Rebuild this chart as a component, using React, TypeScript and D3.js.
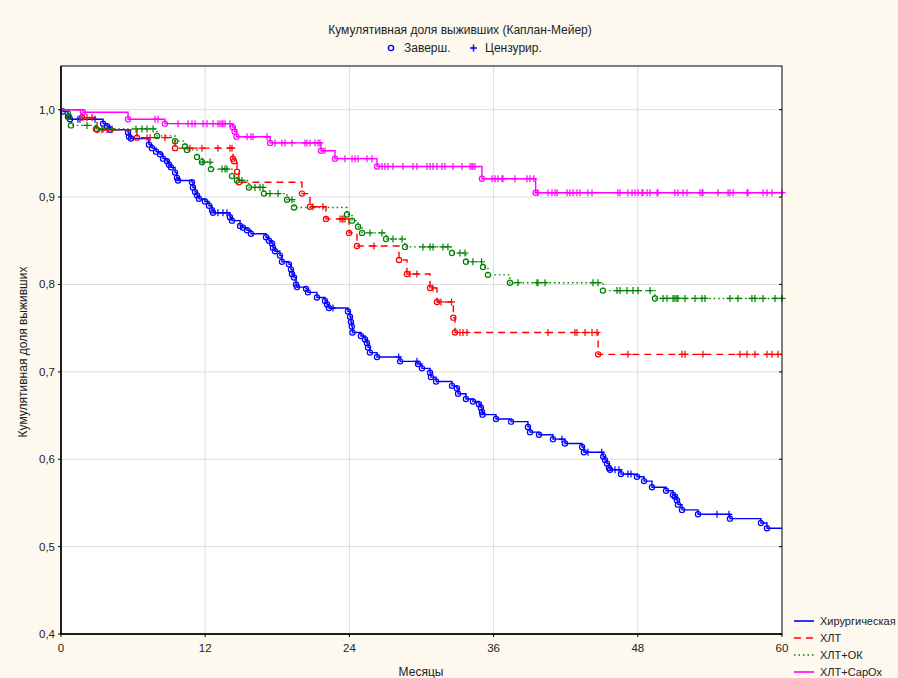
import React from 'react';
import * as d3 from 'd3';

// x axis (months) and y axis (cumulative survival)
const monthTicks = [0, 12, 24, 36, 48, 60];
const survivalTicks = [0.4, 0.5, 0.6, 0.7, 0.8, 0.9, 1.0];
const followUp = 60;

// [month, survival after event]  and censored months
const surgeryEvents: [number, number][] = [
  [0.17, 0.998], [0.58, 0.992], [0.75, 0.989], [3.5, 0.984], [3.83, 0.981], [4.08, 0.977],
  [5.58, 0.974], [5.66, 0.969], [5.83, 0.967], [7.32, 0.96], [7.57, 0.956], [7.91, 0.952],
  [8.24, 0.949], [8.49, 0.944], [8.82, 0.941], [8.99, 0.937], [9.15, 0.934], [9.49, 0.928],
  [9.65, 0.922], [9.74, 0.919], [10.9, 0.917], [10.98, 0.911], [11.15, 0.906], [11.32, 0.902],
  [11.48, 0.898], [11.98, 0.895], [12.32, 0.89], [12.57, 0.885], [12.65, 0.882], [14.06, 0.877],
  [14.23, 0.873], [14.9, 0.867], [15.15, 0.865], [15.48, 0.862], [15.81, 0.858], [17.06, 0.854],
  [17.31, 0.85], [17.56, 0.847], [17.64, 0.842], [17.81, 0.838], [18.22, 0.833], [18.39, 0.826],
  [18.97, 0.823], [19.14, 0.817], [19.22, 0.812], [19.39, 0.808], [19.56, 0.8], [19.64, 0.797],
  [20.39, 0.795], [20.55, 0.791], [21.3, 0.785], [21.97, 0.781], [22.14, 0.777], [22.3, 0.773],
  [23.88, 0.769], [24.05, 0.763], [24.13, 0.757], [24.2, 0.752], [24.25, 0.745], [24.96, 0.741],
  [25.3, 0.737], [25.46, 0.733], [25.55, 0.728], [25.71, 0.722], [26.3, 0.717], [28.22, 0.712],
  [29.71, 0.709], [30.04, 0.704], [30.71, 0.699], [30.79, 0.694], [31.21, 0.689], [32.54, 0.684],
  [32.95, 0.681], [33.04, 0.675], [33.7, 0.669], [34.28, 0.666], [34.78, 0.663], [34.95, 0.659],
  [35.03, 0.654], [35.08, 0.651], [36.2, 0.646], [37.45, 0.643], [38.86, 0.637], [39.03, 0.631],
  [39.78, 0.628], [40.94, 0.623], [41.94, 0.618], [43.36, 0.614], [43.52, 0.608], [45.12, 0.603],
  [45.27, 0.599], [45.44, 0.595], [45.6, 0.59], [45.69, 0.588], [46.6, 0.583], [47.93, 0.58],
  [48.52, 0.575], [49.18, 0.568], [50.35, 0.564], [50.93, 0.559], [51.09, 0.557], [51.26, 0.553],
  [51.34, 0.548], [51.68, 0.542], [53.01, 0.537], [55.67, 0.532], [58.25, 0.527], [58.75, 0.521],
];
const surgeryCensored = [
  1.41, 1.58, 2.83, 13.06, 13.48, 13.81, 22.63, 28.1, 29.62, 41.69, 43.85, 45.0, 46.1, 46.43,
  47.18, 47.43, 54.59, 55.59,
];

const chemoEvents: [number, number][] = [
  [1.75, 0.991], [3.0, 0.977], [6.32, 0.968], [9.49, 0.956], [14.31, 0.944], [14.4, 0.941],
  [14.65, 0.929], [14.81, 0.917], [20.05, 0.904], [20.72, 0.889], [22.05, 0.875], [23.97, 0.859],
  [24.63, 0.844], [28.13, 0.828], [28.79, 0.812], [30.71, 0.796], [31.29, 0.78], [32.65, 0.762],
  [32.79, 0.745], [44.7, 0.72],
];
const chemoCensored = [
  2.16, 2.58, 3.41, 3.83, 4.24, 7.16, 7.41, 8.65, 10.73, 11.73, 13.06, 14.06, 14.23, 20.97,
  21.8, 23.22, 23.38, 23.47, 23.63, 26.05, 29.04, 29.62, 30.96, 31.62, 32.5, 33.2, 33.45, 33.79,
  40.53, 42.77, 42.94, 43.61, 44.19, 44.61, 47.18, 51.68, 51.93, 53.42, 56.5, 57.09, 57.75,
  58.75, 59.17, 59.67,
];

const chemoOkEvents: [number, number][] = [
  [0.58, 0.996], [0.67, 0.992], [0.83, 0.982], [2.91, 0.978], [7.99, 0.97], [9.49, 0.964],
  [10.32, 0.958], [10.49, 0.954], [11.32, 0.946], [11.73, 0.94], [12.48, 0.932], [14.23, 0.924],
  [14.65, 0.919], [15.64, 0.911], [16.89, 0.904], [18.81, 0.897], [19.39, 0.888], [23.8, 0.88],
  [24.22, 0.873], [24.72, 0.866], [25.05, 0.859], [27.05, 0.852], [28.63, 0.843], [32.54, 0.836],
  [33.7, 0.826], [35.12, 0.82], [35.53, 0.811], [37.36, 0.802], [45.1, 0.793], [49.43, 0.784],
];
const chemoOkCensored = [
  2.16, 3.5, 4.24, 6.24, 6.74, 7.16, 7.66, 11.82, 12.4, 13.4, 13.65, 13.81, 15.06, 16.14, 16.56,
  16.81, 17.39, 18.06, 19.22, 25.71, 26.71, 27.63, 28.38, 30.12, 30.71, 30.96, 31.79, 32.2, 33.2,
  33.62, 34.28, 35.0, 38.03, 39.61, 39.69, 40.28, 44.27, 44.69, 46.27, 46.52, 47.1, 47.6, 48.02,
  49.02, 50.1, 50.43, 50.93, 51.09, 51.26, 51.34, 51.93, 52.76, 53.34, 53.59, 55.67, 56.34, 57.5,
  57.75, 58.42, 59.42, 60,
];

const chemoCapoxEvents: [number, number][] = [
  [1.83, 0.997], [5.58, 0.989], [8.65, 0.984], [14.3, 0.98], [14.45, 0.975], [14.6, 0.969],
  [17.4, 0.962], [21.64, 0.953], [22.8, 0.944], [26.3, 0.935], [35.03, 0.921], [39.5, 0.905],
];
const chemoCapoxCensored = [
  7.82, 8.07, 9.74, 10.57, 10.9, 11.15, 11.82, 12.15, 12.65, 13.06, 13.23, 13.4, 13.48, 13.65,
  14.06, 15.48, 15.81, 15.98, 17.14, 17.81, 18.39, 18.64, 19.22, 20.3, 20.47, 20.72, 21.14,
  21.39, 21.55, 21.97, 23.63, 24.22, 24.47, 24.72, 25.46, 25.88, 26.71, 26.96, 27.21, 27.63,
  28.46, 29.29, 29.62, 30.46, 30.71, 30.96, 31.29, 31.71, 31.95, 32.62, 33.37, 34.04, 34.2,
  34.28, 34.45, 35.87, 36.12, 36.37, 36.7, 36.78, 37.78, 38.78, 39.03, 39.35, 39.69, 40.53,
  40.86, 41.11, 41.28, 42.11, 42.36, 42.61, 42.94, 43.19, 43.85, 44.19, 46.35, 46.52, 47.18,
  47.52, 47.77, 48.02, 48.35, 48.43, 48.77, 49.02, 49.6, 49.68, 51.09, 51.34, 51.76, 52.09,
  53.17, 53.34, 53.42, 54.67, 55.51, 55.67, 55.92, 57.09, 57.17, 58.42, 58.75, 59.17, 60,
];

const groups = [
  { name: 'Хирургическая', color: '#0000ff', dash: '', events: surgeryEvents, censored: surgeryCensored },
  { name: 'ХЛТ', color: '#ff0000', dash: '7,5', events: chemoEvents, censored: chemoCensored },
  { name: 'ХЛТ+ОК', color: '#008000', dash: '1.5,3', events: chemoOkEvents, censored: chemoOkCensored },
  { name: 'ХЛТ+СарОх', color: '#ff00ff', dash: '', events: chemoCapoxEvents, censored: chemoCapoxCensored },
];

const width = 898;
const height = 678;
const margin = { top: 66, right: 116, bottom: 44, left: 61 };
const font = 'Liberation Sans, Arial, sans-serif';

function survivalAt(events: [number, number][], t: number) {
  let s = 1;
  for (const e of events) {
    if (e[0] <= t) s = e[1];
  }
  return s;
}

export default function App() {
  const x = d3.scaleLinear().domain([0, followUp]).range([margin.left, width - margin.right]);
  const y = d3.scaleLinear().domain([0.4, 1.05]).range([height - margin.bottom, margin.top]);
  const line = d3.line<[number, number]>()
    .x(d => x(d[0]))
    .y(d => y(d[1]))
    .curve(d3.curveStepAfter);

  const x0 = x(0), x1 = x(followUp), y0 = y(0.4), y1 = y(1.05);

  return (
    <svg width={width} height={height} style={{ position: 'absolute', left: 0, top: 0 }} fontFamily={font}>
      <rect width={width} height={height} fill="#fdf9ef" />
      <rect x={x0} y={y1} width={x1 - x0} height={y0 - y1} fill="#ffffff" />

      {/* grid */}
      {monthTicks.slice(1, -1).map(m => (
        <line key={'gx' + m} x1={x(m)} x2={x(m)} y1={y1} y2={y0} stroke="#dcdcdc" strokeWidth={1} />
      ))}
      {survivalTicks.slice(1).map(v => (
        <line key={'gy' + v} x1={x0} x2={x1} y1={y(v)} y2={y(v)} stroke="#dcdcdc" strokeWidth={1} />
      ))}

      {/* curves */}
      {groups.map(g => {
        const last = g.events[g.events.length - 1][1];
        const pts: [number, number][] = [[0, 1], ...g.events, [followUp, last]];
        return (
          <g key={g.name}>
            <path d={line(pts) || ''} fill="none" stroke={g.color} strokeWidth={1.4}
              strokeDasharray={g.dash || undefined} />
            {g.events.map((e, i) => (
              <circle key={'e' + i} cx={x(e[0])} cy={y(e[1])} r={2.6} fill="none"
                stroke={g.color} strokeWidth={1.2} />
            ))}
            {g.censored.map((t, i) => {
              const cx = x(t), cy = y(survivalAt(g.events, t));
              return (
                <path key={'c' + i} d={`M${cx - 3.5},${cy}H${cx + 3.5}M${cx},${cy - 3.5}V${cy + 3.5}`}
                  stroke={g.color} strokeWidth={1.2} />
              );
            })}
          </g>
        );
      })}

      {/* frame */}
      <rect x={x0} y={y1} width={x1 - x0} height={y0 - y1} fill="none" stroke="#000" strokeWidth={1} />
      <line x1={x0} x2={x0} y1={y1} y2={y0} stroke="#000" strokeWidth={1.5} />
      <line x1={x0} x2={x1} y1={y0} y2={y0} stroke="#000" strokeWidth={1.5} />

      {/* y ticks */}
      {survivalTicks.map(v => (
        <g key={'ty' + v}>
          <line x1={x0 - 3} x2={x0} y1={y(v)} y2={y(v)} stroke="#000" />
          <line x1={x1} x2={x1 - 3} y1={y(v)} y2={y(v)} stroke="#000" />
          <text x={x0 - 6} y={y(v)} dy="0.35em" textAnchor="end" fontSize={11.5} fill="#222">
            {v.toFixed(1).replace('.', ',')}
          </text>
        </g>
      ))}
      {/* x ticks */}
      {monthTicks.map(m => (
        <g key={'tx' + m}>
          <line x1={x(m)} x2={x(m)} y1={y0} y2={y0 + 3} stroke="#000" />
          <text x={x(m)} y={y0 + 14} dy="0.35em" textAnchor="middle" fontSize={11.5} fill="#222">{m}</text>
        </g>
      ))}

      {/* titles */}
      <text x={460} y={30} dy="0.35em" textAnchor="middle" fontSize={12} fill="#222">
        Кумулятивная доля выживших (Каплан-Мейер)
      </text>
      <text x={421} y={672} dy="0.35em" textAnchor="middle" fontSize={12} fill="#222">Месяцы</text>
      <text transform={`translate(23,${(y0 + y1) / 2 + 2}) rotate(-90)`} dy="0.35em" textAnchor="middle"
        fontSize={12} fill="#222">
        Кумулятивная доля выживших
      </text>

      {/* marker legend */}
      <circle cx={391} cy={48} r={2.6} fill="none" stroke="#0000ff" strokeWidth={1.4} />
      <text x={404} y={48} dy="0.35em" fontSize={12} fill="#222">Заверш.</text>
      <path d="M470,48H477M473.5,44.5V51.5" stroke="#0000ff" strokeWidth={1.4} />
      <text x={485} y={48} dy="0.35em" fontSize={12} fill="#222">Цензурир.</text>

      {/* series legend */}
      {groups.map((g, i) => {
        const ly = 621 + i * 17;
        return (
          <g key={'lg' + g.name}>
            <line x1={794} x2={814} y1={ly} y2={ly} stroke={g.color} strokeWidth={1.6}
              strokeDasharray={g.dash || undefined} />
            <text x={820} y={ly} dy="0.35em" fontSize={11} fill="#222">{g.name}</text>
          </g>
        );
      })}
    </svg>
  );
}
